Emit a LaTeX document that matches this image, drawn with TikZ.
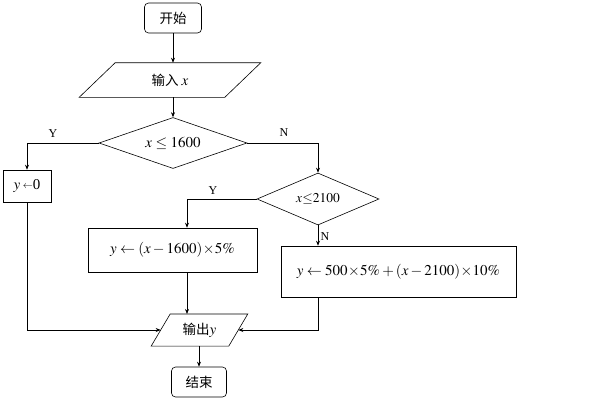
\documentclass[tikz,border=0pt]{standalone}
\usepackage{mathptmx}
\usepackage{fontspec}
\setmainfont{Liberation Serif}
\newfontfamily\cjk{Noto Sans CJK SC}
\usetikzlibrary{shapes.geometric,arrows.meta}
\begin{document}
\begin{tikzpicture}[x=1pt,y=-1pt,
  every node/.style={font=\fontsize{13.5}{15}\selectfont},
  mth/.style={font=\fontsize{15}{17}\selectfont},
  term/.style={draw,rounded corners=4pt,minimum width=57pt,minimum height=30pt,inner sep=0pt},
  proc/.style={draw,inner sep=0pt},
  dec/.style={draw,diamond,aspect=3,inner sep=0pt},
  io/.style={inner sep=0pt},
  lbl/.style={font=\fontsize{12}{14}\selectfont,inner sep=0pt},
  arr/.style={-{Stealth[length=5pt,width=4pt]}},
  line width=0.6pt]
\useasboundingbox (0,0) rectangle (589,400);
% nodes
\node[term] (start) at (173,18) {\cjk 开始};
\node[io,minimum width=145pt,minimum height=34pt] (in) at (170,80) {\cjk 输入\ \normalfont\fontsize{15}{17}\selectfont$x$};
\draw ([xshift=18pt]in.north west) -- ([xshift=18pt]in.north east)
      -- ([xshift=-18pt]in.south east) -- ([xshift=-18pt]in.south west) -- cycle;
\node[dec,mth,minimum width=148pt,minimum height=51pt] (d1) at (173,143) {$x\le1600$};
\node[proc,mth,minimum width=48pt,minimum height=32pt] (y0) at (27,186) {$y$\,\raisebox{1pt}{\fontsize{10}{10}\selectfont$\leftarrow$}0};
\node[dec,minimum width=122pt,minimum height=52pt] (d2) at (318,199) {$x{\le}2100$};
\node[proc,mth,minimum width=169pt,minimum height=44pt] (b2) at (172.5,250) {$y\leftarrow\left(x-1600\right)\!\times\!5\%$};
\node[proc,mth,minimum width=235pt,minimum height=51pt] (b3) at (398.5,271.5) {$y\leftarrow500\!\times\!5\%+\left(x-2100\right)\!\times\!10\%$};
\node[io,minimum width=77pt,minimum height=31.5pt] (out) at (199.5,330) {\cjk 输出\normalfont\fontsize{15}{17}\selectfont$y$};
\draw ([xshift=9.5pt]out.north west) -- ([xshift=9.5pt]out.north east)
      -- ([xshift=-9.5pt]out.south east) -- ([xshift=-9.5pt]out.south west) -- cycle;
\node[term,minimum width=55pt] (end) at (199,382) {\cjk 结束};
\coordinate (yb) at (187,199);
% labels
\node[lbl] (ly1) at (53,134) {Y};
\node[lbl] (ln1) at (284,133) {N};
\node[lbl] (ly2) at (213,191) {Y};
\node[lbl] (ln2) at (325,237) {N};
% connectors
\draw[arr] (start.south) -- (start.south |- in.north);
\draw[arr] (in.south -| d1.north) -- (d1.north);
\draw[arr] (d1.west) -| (y0.north);
\draw[arr] (d1.east) -| (d2.north);
\draw[arr] (d2.west) -- (yb) -- (yb |- b2.north);
\draw[arr] (d2.south) -- (d2.south |- b3.north);
\draw[arr] (yb |- b2.south) -- (yb |- out.north);
\draw[arr] (y0.south) |- (out.west);
\draw[arr] (d2.south |- b3.south) |- (out.east);
\draw[arr] (out.south -| end.north) -- (end.north);
\end{tikzpicture}
\end{document}
